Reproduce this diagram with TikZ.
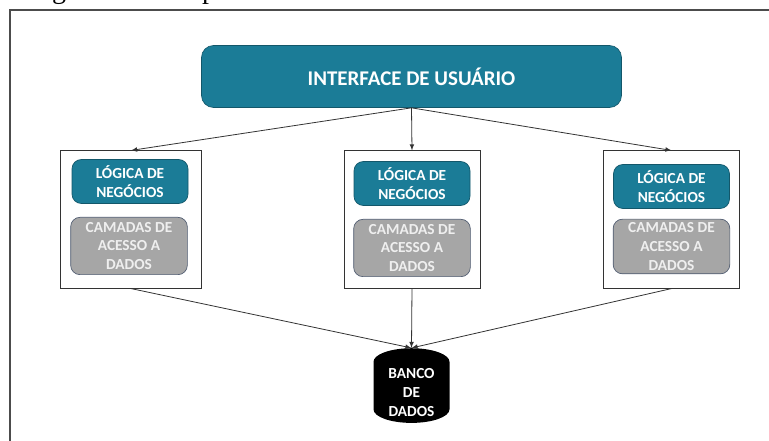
\documentclass[tikz,border=0pt]{standalone}
\usepackage{fontspec}
\setmainfont{Carlito}
\newfontfamily\captionfont{Liberation Serif}
\usetikzlibrary{shapes.geometric}

\begin{document}
\begin{tikzpicture}[x=0.75pt,y=-0.75pt,
    layerbox/.style={draw=#1!70!black,rounded corners=7pt,align=center,text=white,inner sep=0pt,line width=0.5pt,font=\bfseries\fontsize{11.5}{14.2}\selectfont},
    tealbox/.style={layerbox=tealfill,fill=tealfill,minimum width=87pt,minimum height=33pt},
    graybox/.style={layerbox=grayedge,fill=grayfill,text=grayfont,minimum width=87.5pt,minimum height=43pt},
    serverbox/.style={draw=black!80,line width=0.6pt,minimum width=103pt,minimum height=103pt,inner sep=0pt},
    link/.style={-latex,black!80,line width=0.6pt}]
    \definecolor{tealfill}{HTML}{1B7C97}
    \definecolor{grayfill}{HTML}{A6A6A6}
    \definecolor{grayedge}{HTML}{6F819E}
    \definecolor{grayfont}{HTML}{EFEFEF}
    \useasboundingbox (0,0) rectangle (769,441);

    % page frame and cut caption
    \draw [black!70,line width=1.4pt] (10,441)--(10,10)--(769,10);
    \node [anchor=base,font=\captionfont\fontsize{21}{21}\selectfont] (captiong) at (59,-1.5) {g};
    \node [anchor=base,font=\captionfont\fontsize{21}{21}\selectfont] (captionp) at (209,-1.5) {p};

    \node [layerbox=tealfill,fill=tealfill,rounded corners=9pt,minimum width=315pt,minimum height=46.5pt,font=\bfseries\fontsize{15.7}{19}\selectfont] (ui) at (411.5,76.5) {INTERFACE DE USUÁRIO};

    \node [serverbox,minimum width=106pt] (serverA) at (131,219.5) {};
    \node [serverbox,minimum width=102pt] (serverB) at (412,219.5) {};
    \node [serverbox,minimum width=102.5pt] (serverC) at (671.5,219.5) {};

    \node [tealbox] (logicA) at (130,181.5) {LÓGICA DE\\NEGÓCIOS};
    \node [tealbox] (logicB) at (412,183.5) {LÓGICA DE\\NEGÓCIOS};
    \node [tealbox] (logicC) at (671.5,186.5) {LÓGICA DE\\NEGÓCIOS};

    \node [graybox] (dataA) at (129,246) {CAMADAS DE\\ACESSO A\\DADOS};
    \node [graybox] (dataB) at (412,248) {CAMADAS DE\\ACESSO A\\DADOS};
    \node [graybox,minimum height=41pt] (dataC) at (671.5,246.5) {CAMADAS DE\\ACESSO A\\DADOS};

    % drum keeps its caps only with a box inside
    \node [cylinder,shape border rotate=90,aspect=0.6,fill=black,inner sep=0pt,minimum width=57pt,minimum height=56pt] (bank) at (411.5,392.5) {\rule{34pt}{0pt}\rule{0pt}{20pt}};
    \node [align=center,text=white,inner sep=0pt,font=\bfseries\fontsize{11.5}{14}\selectfont] (banktext) at (411.5,392.5) {BANCO\\DE\\DADOS};

    \draw [link] (ui.south)--(serverA.north);
    \draw [link] (ui.south)--(serverB.north);
    \draw [link] (ui.south)--(serverC.north);

    \draw [link] (serverA.south)--(bank.north);
    \draw [link] (serverB.south)--(bank.north);
    \draw [link] (serverC.south)--(bank.north);
\end{tikzpicture}
\end{document}
